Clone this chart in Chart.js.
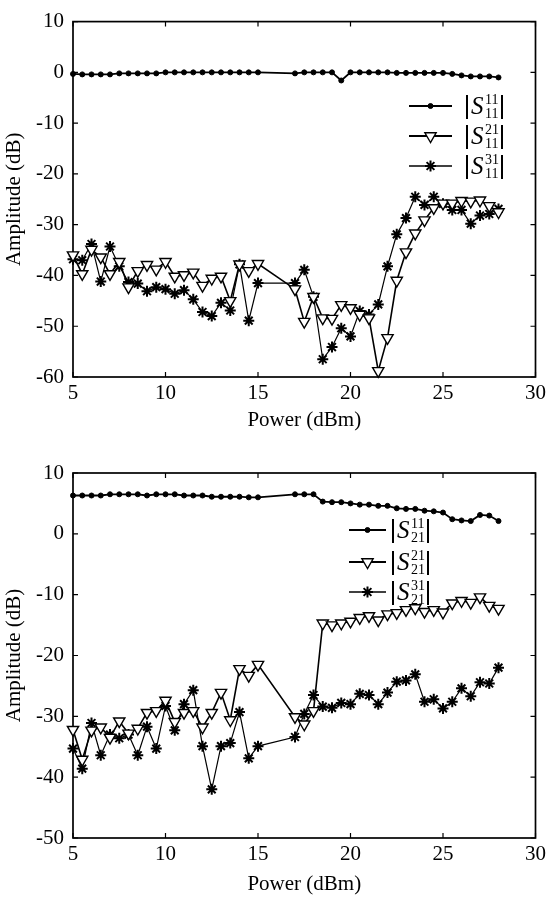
<!DOCTYPE html>
<html>
<head>
<meta charset="utf-8">
<script src="https://cdn.jsdelivr.net/npm/chart.js@4.4.0/dist/chart.umd.min.js"></script>
<style>
  body { margin: 0; background: #fff; }
  .box { position: relative; width: 550px; }
</style>
</head>
<body>
<div class="box" style="height:440px"><canvas id="topChart"></canvas></div>
<div class="box" style="height:457px"><canvas id="bottomChart"></canvas></div>
<script>
// input power (dBm), same sweep for every curve (no points between 15 and 17)
const powerDbm = [5,5.5,6,6.5,7,7.5,8,8.5,9,9.5,10,10.5,11,11.5,12,12.5,13,13.5,14,14.5,15,
  17,17.5,18,18.5,19,19.5,20,20.5,21,21.5,22,22.5,23,23.5,24,24.5,25,25.5,26,26.5,27,27.5,28];

// top plot: |S11| for harmonics 11, 21, 31
const s11_11 = [-0.3,-0.4,-0.4,-0.4,-0.4,-0.2,-0.2,-0.2,-0.2,-0.2,0,0,0,0,0,0,0,0,0,0,0,
  -0.2,0,0,0,0,-1.6,0,0,0,0,0,-0.1,-0.1,-0.1,-0.1,-0.1,-0.1,-0.3,-0.6,-0.8,-0.8,-0.8,-1.0];
const s11_21 = [-36,-39.7,-34.9,-36.4,-39.7,-37.3,-42.3,-39.1,-37.9,-38.8,-37.3,-40.2,-39.9,-39.4,-42,-40.6,-40.2,-45,-37.8,-39.1,-37.7,
  -42.7,-49.1,-44.2,-48.4,-48.5,-45.8,-46.4,-47.7,-48.4,-58.8,-52.3,-41,-35.4,-31.7,-29.1,-26.7,-25.8,-25.8,-25.3,-25.4,-25.2,-26.3,-27.5];
const s11_31 = [-36.8,-37,-33.8,-41.2,-34.3,-38.2,-41.3,-41.6,-43.1,-42.3,-42.7,-43.6,-42.9,-44.7,-47.2,-48,-45.4,-46.9,-37.8,-48.9,-41.5,
  -41.5,-38.9,-44.2,-56.5,-54.1,-50.4,-52,-47,-47.7,-45.7,-38.2,-31.9,-28.7,-24.5,-26.1,-24.5,-25.9,-27.1,-27.1,-29.8,-28.2,-27.9,-26.9];

// bottom plot: |S21|
const s21_11 = [6.3,6.3,6.3,6.3,6.5,6.5,6.5,6.5,6.3,6.5,6.5,6.5,6.3,6.3,6.3,6.1,6.1,6.1,6.1,6.0,6.0,
  6.5,6.5,6.5,5.3,5.2,5.2,5.0,4.8,4.8,4.6,4.6,4.2,4.1,4.1,3.8,3.7,3.5,2.4,2.2,2.1,3.1,3.0,2.1];
const s21_21 = [-32.2,-37.1,-32.3,-31.8,-33.5,-30.8,-32.8,-32,-29.4,-29.1,-27.4,-30.9,-29.4,-29.1,-31.8,-29.4,-26.1,-30.6,-22.2,-23.3,-21.5,
  -30.1,-31.3,-29.1,-14.7,-15,-14.7,-14.4,-13.8,-13.5,-14.2,-13.2,-13,-12.5,-12.2,-12.8,-12.5,-12.9,-11.4,-11,-11.3,-10.4,-11.8,-12.3];
const s21_31 = [-35.3,-38.6,-31.1,-36.4,-33,-33.6,-33,-36.4,-31.7,-35.3,-28.3,-32.3,-28,-25.7,-34.9,-42,-34.9,-34.4,-29.3,-36.9,-34.9,
  -33.4,-29.6,-26.5,-28.4,-28.6,-27.8,-28,-26.3,-26.5,-28,-26.1,-24.3,-24.1,-23.1,-27.6,-27.2,-28.7,-27.6,-25.4,-26.7,-24.4,-24.6,-22];

const xRange = [5, 30];
const topYRange = [-60, 10];
const bottomYRange = [-50, 10];
const legendSup = ['11', '21', '31'];

const serif = "'Liberation Serif', 'DejaVu Serif', serif";

// marker look for the three curves
const seriesStyle = [
  { pointStyle: 'circle', radius: 2.5, rotation: 0, borderWidth: 1, fill: '#000', lineWidth: 1.8 },
  { pointStyle: 'triangle', radius: 6.5, rotation: 180, borderWidth: 1.4, fill: '#fff', lineWidth: 1.6 },
  { pointStyle: 'star', radius: 5.5, rotation: 0, borderWidth: 2, fill: '#000', lineWidth: 1.2 }
];

function makeDataset(values, st) {
  return {
    data: values.map((v, i) => ({ x: powerDbm[i], y: v })),
    borderColor: '#000',
    borderWidth: st.lineWidth,
    pointStyle: st.pointStyle,
    pointRadius: st.radius,
    pointRotation: st.rotation,
    pointBackgroundColor: st.fill,
    pointBorderColor: '#000',
    pointBorderWidth: st.borderWidth,
    tension: 0,
    clip: false
  };
}

// box around plot area + inward ticks on all four sides
const framePlugin = {
  id: 'frame',
  beforeDatasetsDraw(chart) {
    const { ctx, chartArea: a, scales: { x, y } } = chart;
    ctx.save();
    ctx.strokeStyle = '#000';
    ctx.lineWidth = 1.2;
    ctx.beginPath();
    x.ticks.forEach(t => {
      const px = x.getPixelForValue(t.value);
      ctx.moveTo(px, a.bottom); ctx.lineTo(px, a.bottom - 5);
      ctx.moveTo(px, a.top); ctx.lineTo(px, a.top + 5);
    });
    y.ticks.forEach(t => {
      const py = y.getPixelForValue(t.value);
      ctx.moveTo(a.left, py); ctx.lineTo(a.left + 5, py);
      ctx.moveTo(a.right, py); ctx.lineTo(a.right - 5, py);
    });
    ctx.stroke();
    ctx.lineWidth = 1.7;
    ctx.strokeRect(a.left, a.top, a.right - a.left, a.bottom - a.top);
    ctx.restore();
  }
};

// legend with |S^ab_cd| labels
function legendPlugin(sub, lineX1, lineX2, barX, rows) {
  return {
    id: 'sLegend',
    afterDraw(chart) {
      const ctx = chart.ctx;
      ctx.save();
      ctx.strokeStyle = '#000';
      ctx.fillStyle = '#000';
      rows.forEach((yy, i) => {
        const st = seriesStyle[i];
        ctx.lineWidth = i < 2 ? 2.2 : 1.3;
        ctx.beginPath();
        ctx.moveTo(lineX1, yy); ctx.lineTo(lineX2, yy);
        ctx.stroke();
        ctx.fillStyle = st.fill;
        ctx.lineWidth = st.borderWidth;
        Chart.helpers.drawPoint(ctx, { pointStyle: st.pointStyle, radius: st.radius, rotation: st.rotation, borderWidth: st.borderWidth }, (lineX1 + lineX2) / 2, yy);
        // |  | bars
        ctx.fillStyle = '#000';
        ctx.lineWidth = 2;
        ctx.beginPath();
        ctx.moveTo(barX, yy - 11); ctx.lineTo(barX, yy + 13);
        ctx.moveTo(barX + 35, yy - 11); ctx.lineTo(barX + 35, yy + 13);
        ctx.stroke();
        ctx.textBaseline = 'alphabetic';
        ctx.textAlign = 'left';
        ctx.font = 'italic 25px ' + serif;
        ctx.fillText('S', barX + 4, yy + 8);
        ctx.font = '14px ' + serif;
        ctx.fillText(legendSup[i], barX + 18, yy - 2);
        ctx.fillText(sub, barX + 18, yy + 12);
      });
      ctx.restore();
    }
  };
}

function makeChart(id, datasets, yRange, padTop, xAxisH, titlePadBottom, legend) {
  return new Chart(document.getElementById(id), {
    type: 'line',
    data: { datasets },
    options: {
      responsive: true,
      maintainAspectRatio: false,
      devicePixelRatio: 1,
      animation: false,
      layout: { padding: { top: padTop, right: 13, left: 0, bottom: 0 } },
      plugins: { legend: { display: false }, tooltip: { enabled: false } },
      scales: {
        x: {
          type: 'linear', min: xRange[0], max: xRange[1],
          ticks: { stepSize: 5, color: '#000', padding: 4, font: { family: serif, size: 21 } },
          grid: { display: false, drawTicks: false },
          border: { display: false },
          title: { display: true, text: 'Power (dBm)', color: '#000', font: { family: serif, size: 21 }, padding: { top: 0, bottom: titlePadBottom } },
          afterFit: s => { s.height = xAxisH; }
        },
        y: {
          min: yRange[0], max: yRange[1],
          ticks: { stepSize: 10, color: '#000', padding: 9, font: { family: serif, size: 21 } },
          grid: { display: false, drawTicks: false },
          border: { display: false },
          title: { display: true, text: 'Amplitude (dB)', color: '#000', font: { family: serif, size: 21 }, padding: { top: 2, bottom: 0 } },
          afterFit: s => { s.width = 73; }
        }
      }
    },
    plugins: [framePlugin, legend]
  });
}

makeChart('topChart',
  [makeDataset(s11_11, seriesStyle[0]), makeDataset(s11_21, seriesStyle[1]), makeDataset(s11_31, seriesStyle[2])],
  topYRange, 14, 63, 7, legendPlugin('11', 409, 452, 467, [106, 136, 166]));

makeChart('bottomChart',
  [makeDataset(s21_11, seriesStyle[0]), makeDataset(s21_21, seriesStyle[1]), makeDataset(s21_31, seriesStyle[2])],
  bottomYRange, 33, 59, 0, legendPlugin('21', 349, 386, 393, [90, 122, 152]));
</script>
</body>
</html>
